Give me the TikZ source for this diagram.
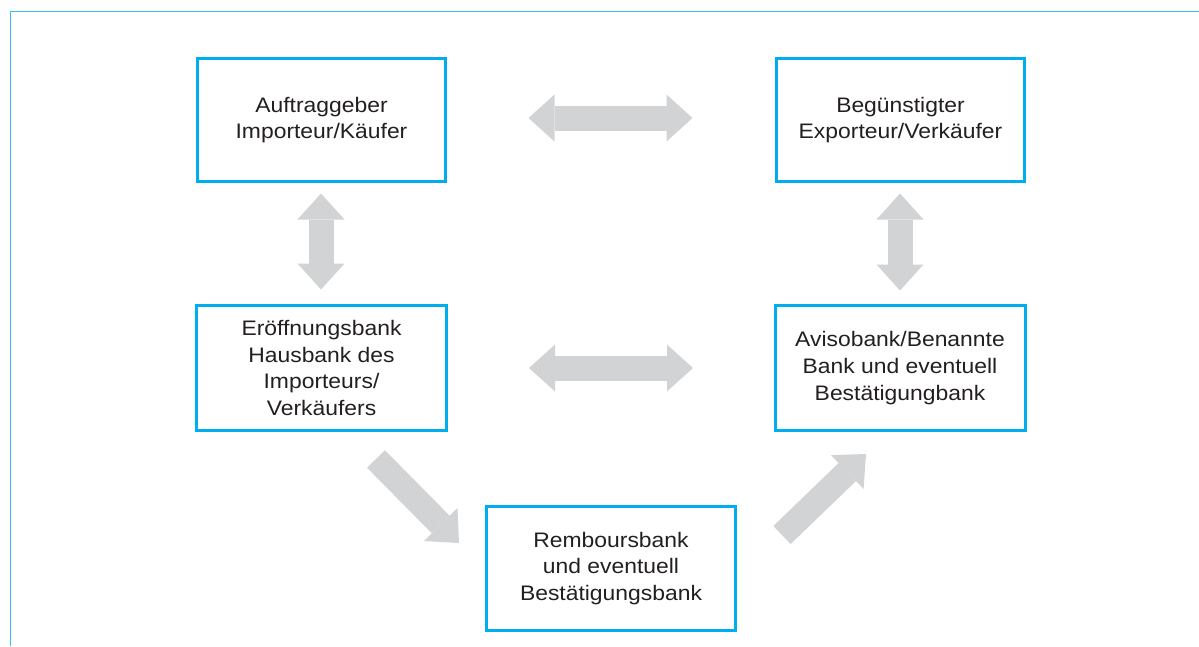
\documentclass[tikz,border=0pt]{standalone}
\usepackage{fontspec}
\setmainfont{Liberation Sans}[FakeStretch=1.09]
\usetikzlibrary{arrows.meta}
\definecolor{boxblue}{HTML}{00AEEF}
\definecolor{framecol}{HTML}{3CBDEF}
\definecolor{arrowgray}{HTML}{D1D3D4}
\definecolor{txt}{HTML}{231F20}
\tikzset{
  box/.style={draw=boxblue, line width=3pt, minimum width=248pt, minimum height=123pt,
    align=center, text=txt, font=\fontsize{21}{26.7}\selectfont, inner sep=0pt},
  midbox/.style={box, minimum width=250pt, minimum height=125pt},
  gtip/.tip={Triangle[length=26pt,width=47pt,line width=0pt]},
  bigarrow/.style={draw=arrowgray, line width=25pt, -gtip},
  dblarrow/.style={draw=arrowgray, line width=25pt, gtip-gtip}
}
\begin{document}
\begin{tikzpicture}[x=1pt,y=-1pt]
\useasboundingbox (0,0) rectangle (1199,646);
\draw[framecol, line width=1pt] (10,646) -- (10,11.5) -- (1199,11.5);

\node[box] (b1) at (321.5,120) {Auftraggeber\\Importeur/Käufer};
\node[box] (b2) at (900.5,120) {Begünstigter\\Exporteur/Verkäufer};
\node[midbox] (b3) at (321.5,368) {Eröffnungsbank\\Hausbank des\\Importeurs/\\Verkäufers};
\node[midbox] (b4) at (900,368) {Avisobank/Benannte\\Bank und eventuell\\Bestätigungbank};
\node[box, minimum width=249pt, minimum height=124pt] (b5) at (611,568.5) {Remboursbank\\und eventuell\\Bestätigungsbank};

\draw[dblarrow, shorten <=81.5pt, shorten >=82.5pt] ([yshift=2pt]b1.east) -- ([yshift=2pt]b2.west);
\draw[dblarrow, shorten <=81pt, shorten >=80.5pt] (b3.east) -- (b4.west);
\draw[dblarrow, shorten <=10.5pt, shorten >=14.5pt] ([xshift=-0.5pt]b1.south) -- ([xshift=-0.5pt]b3.north);
\draw[dblarrow, shorten <=10.5pt, shorten >=13.5pt] ([xshift=-0.5pt]b2.south) -- (b4.north);

\coordinate (d1s) at (376,459);
\coordinate (d1e) at (459,543);
\coordinate (d2s) at (782,535);
\coordinate (d2e) at (866,454);
\draw[bigarrow] (d1s) -- (d1e);
\draw[bigarrow] (d2s) -- (d2e);
\end{tikzpicture}
\end{document}
